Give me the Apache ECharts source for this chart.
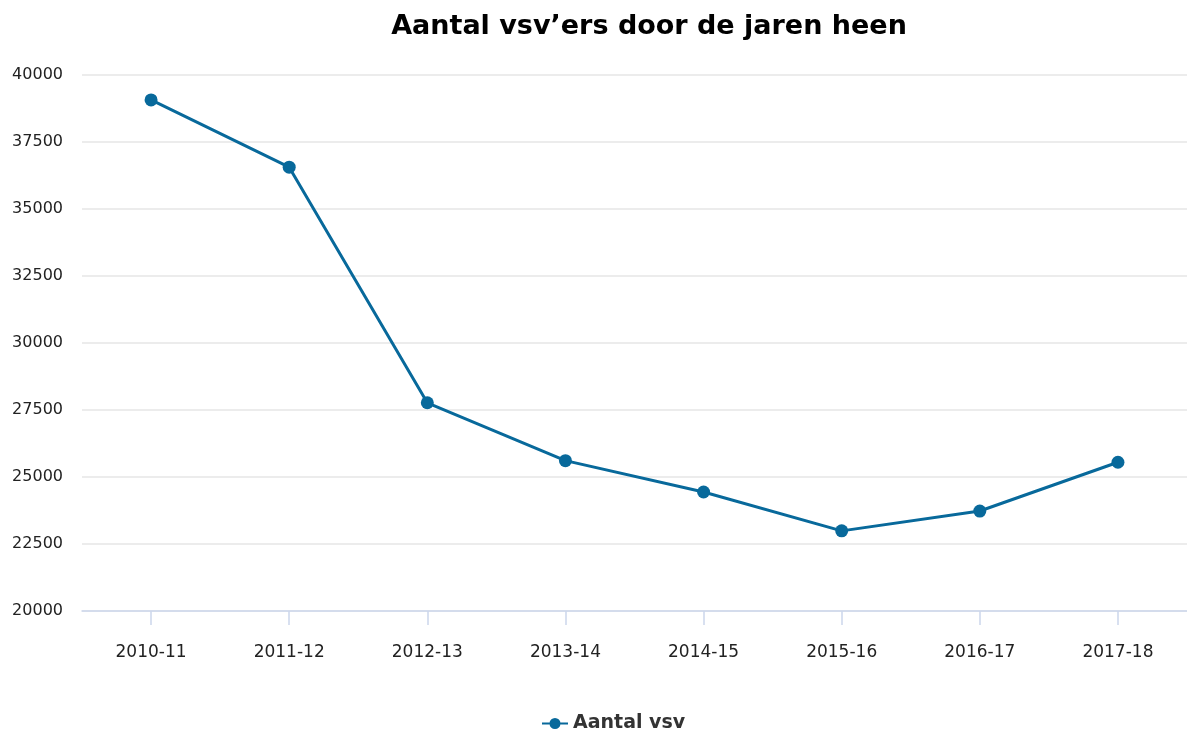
<!DOCTYPE html>
<html>
<head>
<meta charset="utf-8">
<script src="https://cdn.jsdelivr.net/npm/echarts@6/dist/echarts.min.js"></script>
<style>
  html, body { margin: 0; padding: 0; background: #fff; }
  #chart { width: 1187px; height: 731px; }
</style>
</head>
<body>
<div id="chart"></div>
<script>
// schooljaren en aantal voortijdig schoolverlaters
const years = ['2010-11', '2011-12', '2012-13', '2013-14', '2014-15', '2015-16', '2016-17', '2017-18']
const vsv = [39070, 36560, 27770, 25610, 24440, 22990, 23730, 25550]
const yTicks = [20000, 22500, 25000, 27500, 30000, 32500, 35000, 37500, 40000]

const chart = echarts.init(document.getElementById('chart'))
const font = '"DejaVu Sans", sans-serif'

chart.setOption({
  backgroundColor: '#fff',
  animation: false,
  title: {
    text: 'Aantal vsv’ers door de jaren heen',
    left: 644,
    top: 8,
    textAlign: 'center',
    textStyle: {
      fontFamily: font,
      fontWeight: 'bold',
      fontSize: 27,
      color: '#000'
    }
  },
  legend: {
    top: 709,
    left: 537,
    itemWidth: 26,
    itemHeight: 12,
    itemGap: 6,
    icon: 'path://M0,5.1 L26,5.1 L26,6.9 L0,6.9 Z M13,0.5 A5.5,5.5 0 1,1 12.99,0.5 Z',
    textStyle: {
      fontFamily: font,
      fontWeight: 'bold',
      fontSize: 19,
      color: '#333'
    },
    data: ['Aantal vsv']
  },
  grid: {
    left: 82,
    right: -3,
    top: 75,
    bottom: 120
  },
  xAxis: {
    type: 'category',
    data: years,
    boundaryGap: true,
    axisLine: { lineStyle: { color: '#ccd6eb', width: 1.5 } },
    axisTick: { show: true, interval: 0, alignWithLabel: true, length: 14, lineStyle: { color: '#ccd6eb', width: 1.5 } },
    axisLabel: { margin: 33, fontFamily: font, fontSize: 17, color: '#222' }
  },
  yAxis: {
    type: 'value',
    min: yTicks[0],
    max: yTicks[yTicks.length - 1],
    interval: 2500,
    axisLine: { show: false },
    axisTick: { show: false },
    axisLabel: { margin: 19, fontFamily: font, fontSize: 16, color: '#222', formatter: v => String(v) },
    splitLine: { lineStyle: { color: '#e6e6e6', width: 1.5 } }
  },
  series: [{
    name: 'Aantal vsv',
    type: 'line',
    data: vsv,
    symbol: 'circle',
    symbolSize: 13,
    color: '#08699b',
    lineStyle: { width: 3, color: '#08699b' },
    itemStyle: { color: '#08699b' }
  }]
})
</script>
</body>
</html>
